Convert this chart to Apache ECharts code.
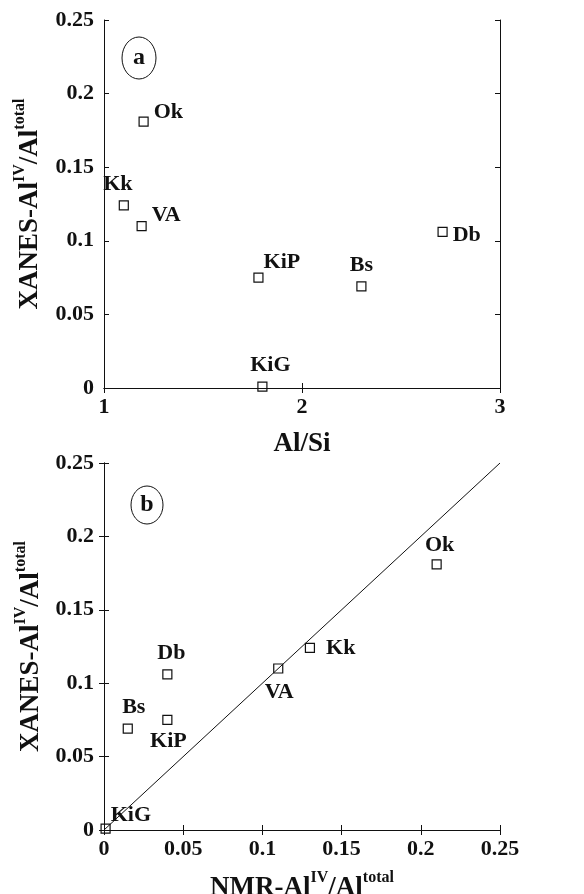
<!DOCTYPE html>
<html><head><meta charset="utf-8">
<script src="https://cdn.jsdelivr.net/npm/echarts@6/dist/echarts.min.js"></script>
<style>html,body{margin:0;padding:0;background:#fff}#c{width:584px;height:894px}</style>
</head><body><div id="c"></div>
<script>
// ---- data ----
const samples = ['Ok', 'Kk', 'VA', 'KiP', 'Bs', 'Db', 'KiG'];
const alSi    = [1.20, 1.10, 1.19, 1.78, 2.30, 2.71, 1.80];
const xanes   = [0.181, 0.124, 0.110, 0.075, 0.069, 0.106, 0.001];
const nmr     = [0.210, 0.130, 0.110, 0.040, 0.015, 0.040, 0.001];
const oneToOne = [[0, 0], [0.25, 0.25]];
const alSiTicks  = [1, 2, 3];
const fracTicks  = [0, 0.05, 0.1, 0.15, 0.2, 0.25];

// ---- label placement (layout only) ----
const labelA = {
  Ok: ['right', [0, -9]], Kk: ['top', [-6, 0]], VA: ['right', [0, -11]],
  KiP: ['right', [-5, -15]], Bs: ['top', [0, 0]], Db: ['right', [0, 3]], KiG: ['top', [8, 0]]
};
const labelB = {
  Ok: ['top', [3, 2]], Kk: ['right', [6, 0]], VA: ['bottom', [1, 3]],
  KiP: ['bottom', [1, 0]], Bs: ['top', [6, 0]], Db: ['top', [4, 0]], KiG: ['right', [-5, -13]]
};

const FONT = '"Liberation Serif", "Times New Roman", serif';
const INK = '#111';

function pts(xs, layout) {
  return samples.map((s, i) => ({
    name: s,
    value: [xs[i], xanes[i]],
    label: { position: layout[s][0], offset: layout[s][1] }
  }));
}

const richName = {
  b: { fontFamily: FONT, fontWeight: 'bold', fontSize: 27, color: INK, lineHeight: 32, verticalAlign: 'bottom' },
  s: { fontFamily: FONT, fontWeight: 'bold', fontSize: 16, color: INK, lineHeight: 19, verticalAlign: 'top' }
};
const yName = '{b|XANES-Al}{s|IV}{b|/Al}{s|total}';

function mainX(grid, min, max, step, name, gap) {
  return {
    gridIndex: grid, type: 'value', min: min, max: max, interval: step, position: 'bottom',
    name: name, nameLocation: 'middle', nameGap: gap, nameTextStyle: { rich: richName },
    axisLine: { lineStyle: { color: INK, width: 1 } },
    axisTick: { inside: true, length: 5, lineStyle: { color: INK } },
    axisLabel: { fontFamily: FONT, fontWeight: 'bold', fontSize: 22, color: INK, margin: 8 },
    splitLine: { show: false }
  };
}
function mirrorX(grid, min, max, step) {
  return {
    gridIndex: grid, type: 'value', min: min, max: max, interval: step, position: 'top',
    axisLine: { lineStyle: { color: INK, width: 1 } },
    axisTick: { inside: true, length: 5, lineStyle: { color: INK } },
    axisLabel: { show: false }, splitLine: { show: false }
  };
}
function mainY(grid, gap) {
  return {
    gridIndex: grid, type: 'value', min: fracTicks[0], max: fracTicks[fracTicks.length - 1], interval: 0.05,
    position: 'left', name: yName, nameLocation: 'middle', nameGap: gap, nameRotate: 90,
    nameTextStyle: { rich: richName },
    axisLine: { lineStyle: { color: INK, width: 1 } },
    axisTick: { inside: true, length: 5, lineStyle: { color: INK } },
    axisLabel: { fontFamily: FONT, fontWeight: 'bold', fontSize: 22, color: INK, margin: 10 },
    splitLine: { show: false }
  };
}
function mirrorY(grid) {
  return {
    gridIndex: grid, type: 'value', min: fracTicks[0], max: fracTicks[fracTicks.length - 1], interval: 0.05,
    position: 'right',
    axisLine: { lineStyle: { color: INK, width: 1 } },
    axisTick: { inside: true, length: 5, lineStyle: { color: INK } },
    axisLabel: { show: false }, splitLine: { show: false }
  };
}

const scatterStyle = {
  type: 'scatter', symbol: 'rect', symbolSize: 9,
  itemStyle: { color: 'rgba(255,255,255,0)', borderColor: INK, borderWidth: 1.2, opacity: 1 },
  label: { show: true, formatter: '{b}', fontFamily: FONT, fontWeight: 'bold', fontSize: 22, color: INK, distance: 5 },
  z: 5
};

const chart = echarts.init(document.getElementById('c'), null, { renderer: 'canvas' });
chart.setOption({
  backgroundColor: '#fff',
  animation: false,
  grid: [
    { left: 104, top: 20, width: 396, height: 368, containLabel: false, outerBoundsMode: 'none' },
    { left: 104, top: 463, width: 396, height: 367, containLabel: false, outerBoundsMode: 'none' }
  ],
  xAxis: [
    mainX(0, alSiTicks[0], alSiTicks[alSiTicks.length - 1], 1, '{b|Al/Si}', 38),
    mirrorX(0, alSiTicks[0], alSiTicks[alSiTicks.length - 1], 1),
    mainX(1, fracTicks[0], fracTicks[fracTicks.length - 1], 0.05, '{b|NMR-Al}{s|IV}{b|/Al}{s|total}', 40),
    mirrorX(1, fracTicks[0], fracTicks[fracTicks.length - 1], 0.05)
  ],
  yAxis: [ mainY(0, 60), mirrorY(0), mainY(1, 52), mirrorY(1) ],
  series: [
    Object.assign({}, scatterStyle, { xAxisIndex: 0, yAxisIndex: 0, data: pts(alSi, labelA) }),
    { type: 'line', xAxisIndex: 2, yAxisIndex: 2, data: oneToOne, symbol: 'none',
      lineStyle: { color: INK, width: 1 }, z: 3 },
    Object.assign({}, scatterStyle, { xAxisIndex: 2, yAxisIndex: 2, data: pts(nmr, labelB) })
  ],
  graphic: [
    { type: 'ellipse', shape: { cx: 139, cy: 58, rx: 17, ry: 21 }, style: { fill: 'none', stroke: INK, lineWidth: 1 } },
    { type: 'text', x: 139, y: 58, style: { text: 'a', font: 'bold 24px "Liberation Serif", serif', fill: INK, textAlign: 'center', textVerticalAlign: 'middle' } },
    { type: 'ellipse', shape: { cx: 147, cy: 505, rx: 16, ry: 19 }, style: { fill: 'none', stroke: INK, lineWidth: 1 } },
    { type: 'text', x: 147, y: 505, style: { text: 'b', font: 'bold 24px "Liberation Serif", serif', fill: INK, textAlign: 'center', textVerticalAlign: 'middle' } }
  ]
});
</script></body></html>
